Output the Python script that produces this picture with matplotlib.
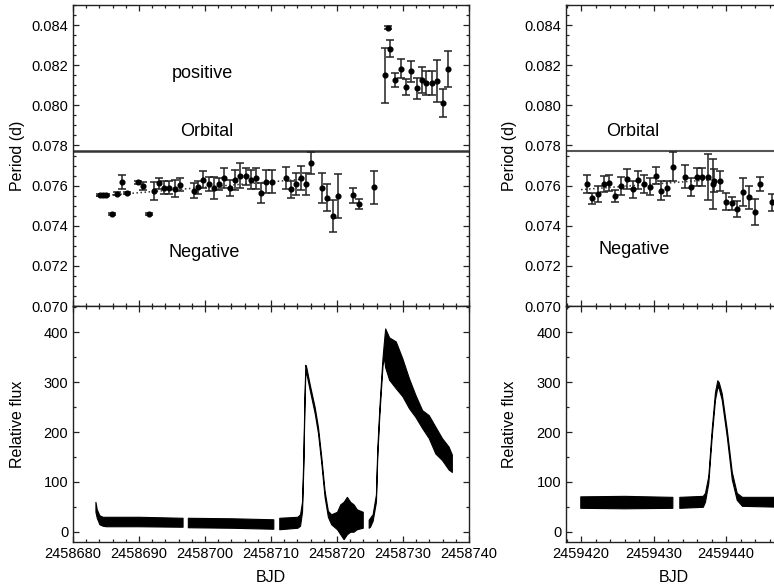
import numpy as np
import matplotlib
matplotlib.use("Agg")
import matplotlib.pyplot as plt
from matplotlib.ticker import MultipleLocator, FormatStrFormatter

plt.rcParams['font.family'] = ['Liberation Sans', 'DejaVu Sans']

# BJD offsets are relative to these
T0_A = 2458680.0
T0_B = 2459420.0
P_ORB = 0.0777

# ---- period data, 2019 outburst (negative superhumps) ----
neg_t = [4.03, 4.54, 5.04, 5.89, 6.69, 7.49, 8.20, 9.89, 10.60, 11.46, 12.30, 13.05,
         13.80, 14.62, 15.41, 16.17, 18.32, 18.98, 19.77, 20.57, 21.38, 22.14, 22.93,
         23.73, 24.54, 25.34, 26.14, 26.95, 27.74, 28.50, 29.25, 30.10, 32.21, 32.96,
         33.76, 34.51, 35.31, 36.12, 37.71, 38.52, 39.32, 40.08, 42.44, 43.28, 45.68]
neg_p = [0.07554, 0.07552, 0.07552, 0.07457, 0.07559, 0.07620, 0.07565, 0.07617,
         0.07597, 0.07460, 0.07572, 0.07612, 0.07589, 0.07589, 0.07584, 0.07605,
         0.07575, 0.07592, 0.07630, 0.07608, 0.07589, 0.07608, 0.07640, 0.07589,
         0.07630, 0.07650, 0.07647, 0.07630, 0.07637, 0.07562, 0.07620, 0.07620,
         0.07638, 0.07582, 0.07608, 0.07638, 0.07608, 0.07712, 0.07589, 0.07540,
         0.07449, 0.07549, 0.07552, 0.07510, 0.07592]
neg_e = [0.00005, 0.00005, 0.00005, 0.00005, 0.00008, 0.00035, 0.00005, 0.00007,
         0.00020, 0.00005, 0.00045, 0.00027, 0.00032, 0.00033, 0.00043, 0.00032,
         0.00038, 0.00033, 0.00043, 0.00035, 0.00055, 0.00030, 0.00050, 0.00040,
         0.00050, 0.00063, 0.00042, 0.00048, 0.00053, 0.00050, 0.00058, 0.00058,
         0.00057, 0.00043, 0.00053, 0.00058, 0.00057, 0.00053, 0.00075, 0.00067,
         0.00080, 0.00108, 0.00038, 0.00025, 0.00083]

# positive superhumps
pos_t = [47.25, 47.74, 48.05, 48.80, 49.65, 50.41, 51.20, 52.06, 52.81, 53.56,
         54.32, 55.16, 56.02, 56.81]
pos_p = [0.08149, 0.08387, 0.08282, 0.08126, 0.08182, 0.08091, 0.08169, 0.08086,
         0.08126, 0.08111, 0.08111, 0.08122, 0.08013, 0.08182]
pos_e = [0.00137, 0.00008, 0.00042, 0.00036, 0.00047, 0.00039, 0.00052, 0.00052,
         0.00066, 0.00060, 0.00060, 0.00104, 0.00069, 0.00090]

fitA_t = [3.5, 35.2]
fitA_p = [0.07547, 0.07633]

# ---- period data, 2021 ----
negB_t = [0.83, 1.56, 2.34, 3.13, 3.90, 4.73, 5.52, 6.34, 7.13, 7.90, 8.69, 9.48,
          10.30, 11.08, 11.86, 12.65, 14.39, 15.17, 15.96, 16.73, 17.52, 18.16,
          18.39, 19.17, 19.96, 20.79, 21.56, 22.39, 23.17, 23.96, 24.73, 26.30]
negB_p = [0.07608, 0.07537, 0.07559, 0.07608, 0.07613, 0.07549, 0.07600, 0.07633,
          0.07582, 0.07627, 0.07608, 0.07595, 0.07650, 0.07574, 0.07587, 0.07695,
          0.07645, 0.07592, 0.07642, 0.07642, 0.07642, 0.07608, 0.07625, 0.07622,
          0.07520, 0.07512, 0.07484, 0.07567, 0.07542, 0.07467, 0.07608, 0.07517]
negB_e = [0.00043, 0.00027, 0.00039, 0.00040, 0.00042, 0.00029, 0.00045, 0.00048,
          0.00042, 0.00046, 0.00046, 0.00042, 0.00042, 0.00047, 0.00037, 0.00073,
          0.00056, 0.00046, 0.00046, 0.00044, 0.00116, 0.00127, 0.00056, 0.00049,
          0.00044, 0.00032, 0.00040, 0.00071, 0.00058, 0.00065, 0.00036, 0.00043]

fitB_t = [0.0, 18.2]
fitB_p = [0.0758, 0.0763]

# ---- light curves: time, lower and upper edge of the flux band ----
lcA = [
    ([3.4, 3.6, 4.0, 4.5, 5.0, 10.0, 16.6],
     [40, 28, 15, 12, 11, 11, 10],
     [60, 45, 33, 30, 30, 30, 28]),
    ([17.4, 24.0, 30.35],
     [9, 8, 6],
     [28, 27, 25]),
    ([31.25, 34.0, 34.4, 34.7, 34.9, 35.05, 35.2, 35.35, 35.86, 36.62, 37.12, 37.62,
      38.12, 38.62, 39.12, 40.0, 40.5, 41.0, 41.5, 42.0, 42.5, 43.0, 43.9],
     [5, 8, 12, 40, 130, 240, 320, 318, 285, 238, 198, 138, 70, 30, 15, 5, -5, -15,
      -5, 0, 0, 5, 8],
     [28, 30, 35, 60, 150, 260, 335, 330, 296, 250, 210, 150, 82, 42, 35, 40, 55, 60,
      70, 60, 55, 45, 40]),
    ([44.8, 45.0, 45.4, 45.9, 46.1, 46.4, 46.65, 46.9, 47.1, 47.3, 47.9, 48.9, 49.9,
      50.9, 51.9, 52.9, 53.9, 54.9, 55.9, 56.9, 57.4],
     [8, 10, 22, 60, 150, 230, 283, 335, 350, 330, 305, 288, 272, 248, 230, 208, 188,
      157, 144, 125, 120],
     [24, 28, 35, 75, 165, 245, 298, 350, 380, 408, 390, 382, 348, 308, 274, 244, 234,
      211, 188, 171, 155]),
]
lcB = [
    ([-0.1, 6.0, 12.6],
     [48, 47, 48],
     [71, 72, 70]),
    ([13.56, 16.8, 17.1, 17.56, 18.03, 18.48, 18.8, 19.0, 19.41, 20.1, 20.8, 21.48,
      22.2, 27.8],
     [48, 50, 60, 98, 192, 265, 290, 288, 265, 192, 105, 64, 52, 50],
     [70, 72, 78, 112, 206, 280, 304, 300, 278, 206, 120, 78, 70, 70]),
]

W, H = 774, 588
fig = plt.figure(figsize=(W / 100, H / 100), dpi=100)


def px_axes(x0, x1, y0, y1):
    return fig.add_axes([x0 / W, 1 - y1 / H, (x1 - x0) / W, (y1 - y0) / H])


def style(ax, xmaj, xmin, ymaj, ymin):
    ax.xaxis.set_major_locator(MultipleLocator(xmaj))
    ax.xaxis.set_minor_locator(MultipleLocator(xmin))
    ax.yaxis.set_major_locator(MultipleLocator(ymaj))
    ax.yaxis.set_minor_locator(MultipleLocator(ymin))
    ax.tick_params(which='both', direction='in', top=True, right=True,
                   labelsize=10.5, width=0.9, color='#222222')
    ax.tick_params(which='major', length=4.5)
    ax.tick_params(which='minor', length=2.5)
    for s in ax.spines.values():
        s.set_linewidth(1.0)
        s.set_color('#222222')


def draw_period(ax, t0, t, p, e):
    ax.errorbar(t0 + np.array(t), p, yerr=e, fmt='o', ms=3.4, color='black',
                ecolor='#222222', elinewidth=1.1, capsize=2.6, capthick=1.1)


def draw_lc(ax, t0, segs):
    for t, lo, hi in segs:
        ax.fill_between(t0 + np.array(t), lo, hi, color='black', lw=0.8,
                        edgecolor='black')


# left column
axA = px_axes(73, 469, 5, 306)
axA.set_xlim(T0_A, T0_A + 60)
axA.set_ylim(0.070, 0.085)
style(axA, 10, 2, 0.002, 0.0005)
axA.yaxis.set_major_formatter(FormatStrFormatter('%.3f'))
axA.tick_params(labelbottom=False)
axA.axhline(P_ORB, color='#333333', lw=1.8)
axA.plot(T0_A + np.array(fitA_t), fitA_p, ls=':', color='#333333', lw=1.1)
draw_period(axA, T0_A, neg_t, neg_p, neg_e)
draw_period(axA, T0_A, pos_t, pos_p, pos_e)
axA.text(T0_A + 19.6, 0.08157, 'positive', fontsize=13, ha='center', va='center')
axA.text(T0_A + 20.2, 0.07868, 'Orbital', fontsize=13, ha='center', va='center')
axA.text(T0_A + 19.9, 0.07269, 'Negative', fontsize=13, ha='center', va='center')
axA.set_ylabel('Period (d)', fontsize=11.5)
axA.yaxis.set_label_coords(-0.12, 0.5)

axC = px_axes(73, 469, 306, 541.7)
axC.set_xlim(T0_A, T0_A + 60)
axC.set_ylim(-20, 453)
style(axC, 10, 2, 100, 50)
axC.xaxis.set_major_formatter(FormatStrFormatter('%d'))
draw_lc(axC, T0_A, lcA)
axC.set_ylabel('Relative flux', fontsize=11.5)
axC.yaxis.set_label_coords(-0.12, 0.5)
axC.set_xlabel('BJD', fontsize=11.5)
axC.xaxis.set_label_coords(0.5, -0.122)

# right column (cut off at the figure edge)
x_right = 781
xr_max = T0_B + (x_right - 581) / 7.25
xr_min = T0_B - (581 - 566) / 7.25

axB = px_axes(566, x_right, 5, 306)
axB.set_xlim(xr_min, xr_max)
axB.set_ylim(0.070, 0.085)
style(axB, 10, 2, 0.002, 0.0005)
axB.yaxis.set_major_formatter(FormatStrFormatter('%.3f'))
axB.tick_params(labelbottom=False)
axB.axhline(P_ORB, color='#555555', lw=1.5)
axB.plot(T0_B + np.array(fitB_t), fitB_p, ls=':', color='#333333', lw=1.1)
draw_period(axB, T0_B, negB_t, negB_p, negB_e)
axB.text(T0_B + 7.2, 0.07868, 'Orbital', fontsize=13, ha='center', va='center')
axB.text(T0_B + 7.4, 0.07284, 'Negative', fontsize=13, ha='center', va='center')
axB.set_ylabel('Period (d)', fontsize=11.5)
axB.yaxis.set_label_coords(-0.228, 0.5)

axD = px_axes(566, x_right, 306, 541.7)
axD.set_xlim(xr_min, xr_max)
axD.set_ylim(-20, 453)
style(axD, 10, 2, 100, 50)
axD.xaxis.set_major_formatter(FormatStrFormatter('%d'))
draw_lc(axD, T0_B, lcB)
axD.set_ylabel('Relative flux', fontsize=11.5)
axD.yaxis.set_label_coords(-0.228, 0.5)
axD.set_xlabel('BJD', fontsize=11.5)
axD.xaxis.set_label_coords(0.5, -0.122)

fig.savefig('out.png', dpi=100)
